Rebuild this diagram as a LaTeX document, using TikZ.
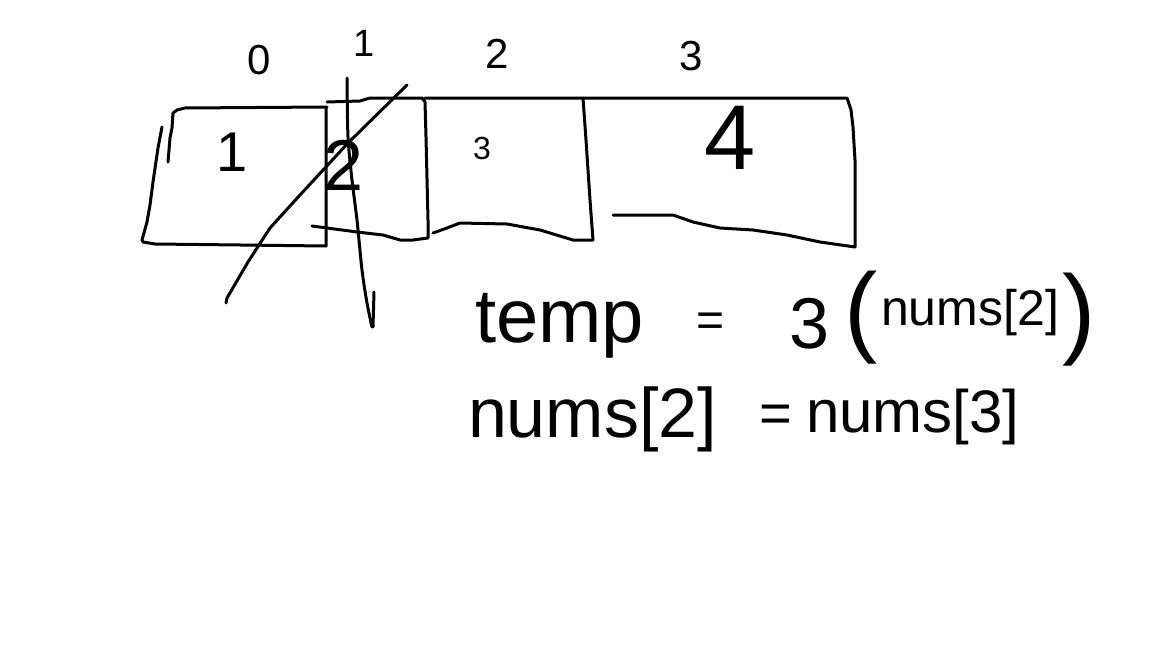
\documentclass[tikz,border=0pt]{standalone}
\usepackage{fontspec}
\setmainfont{Liberation Sans}
\newcommand{\fs}[1]{\fontsize{#1}{#1}\selectfont}
\begin{document}
\begin{tikzpicture}[x=0.5pt,y=-0.5pt,
  stroke/.style={line width=1.5pt, line cap=round, line join=round},
  lbl/.style={inner sep=0pt, outer sep=0pt}]
\fill[white] (0,0) rectangle (1152,648);
\useasboundingbox (0,0) rectangle (1152,648);

% index labels
\node[lbl, font=\fs{21}] (h0) at (259,60) {0};
\node[lbl, font=\fs{19}] (h1) at (364,43) {1};
\node[lbl, font=\fs{21}] (h2) at (497,54) {2};
\node[lbl, font=\fs{21}] (h3) at (691,56) {3};

% box 0
\draw[stroke] (327,107) -- (185,108) -- (177,110) -- (173,113) -- (172,128) -- (170,138) -- (168,162);
\draw[stroke] (162,127) -- (158,148) -- (153,182) -- (150,205) -- (147,222) -- (142,240) -- (143,242) -- (155,244) -- (326,246) -- (326,107);
% box 1
\draw[stroke] (327,102) -- (360,101) -- (370,98) -- (422,98) -- (425,102) -- (426,137) -- (428,220) -- (428,238) -- (413,240) -- (400,240) -- (383,235) -- (357,232) -- (312,226);
% box 2
\draw[stroke] (425,98) -- (583,98) -- (586,140) -- (590,200) -- (593,240) -- (573,240) -- (540,230) -- (507,224) -- (460,223) -- (447,228) -- (433,233);
% box 3
\draw[stroke] (583,98) -- (847,98) -- (851,110) -- (853,127) -- (855,160) -- (855,247) -- (820,242) -- (787,235) -- (753,230) -- (720,228) -- (693,222) -- (673,215) -- (613,215);

% values
\node[lbl, font=\fs{28}] (v1) at (232,152) {1};
\node[lbl, font=\fs{36}] (v2) at (344,165) {2};
\node[lbl, font=\fs{16}] (v3) at (482,148) {3};
\node[lbl, font=\fs{46}] (v4) at (730,138) {4};

% crossing strokes
\draw[stroke] plot[smooth] coordinates {(347,78) (348,137) (352,180) (357,220) (362,270) (367,303) (372,327)};
\draw[stroke] (374,292) -- (373,327);
\draw[stroke] (407,85) -- (348,143) -- (300,195) -- (270,228) -- (248,262) -- (227,298) -- (226,303);

% equations
\node[lbl, font=\fs{38}, anchor=base west] (temp) at (475,342) {temp};
\node[lbl, font=\fs{24}] (eq1) at (711,325) {=};
\node[lbl, font=\fs{36}] (three) at (810,324) {3};
\node[lbl, font=\fs{50}] (lpar) at (861,318) {(};
\node[lbl, font=\fs{25}] (nums1) at (970,313) {nums[2]};
\node[lbl, font=\fs{50}] (rpar) at (1079,320) {)};

\node[lbl, font=\fs{35}, anchor=base west] (nums2) at (468,437) {nums[2]};
\node[lbl, font=\fs{28}] (eq2) at (776,419) {=};
\node[lbl, font=\fs{30}, anchor=base west] (nums3) at (806,432) {nums[3]};
\end{tikzpicture}
\end{document}
